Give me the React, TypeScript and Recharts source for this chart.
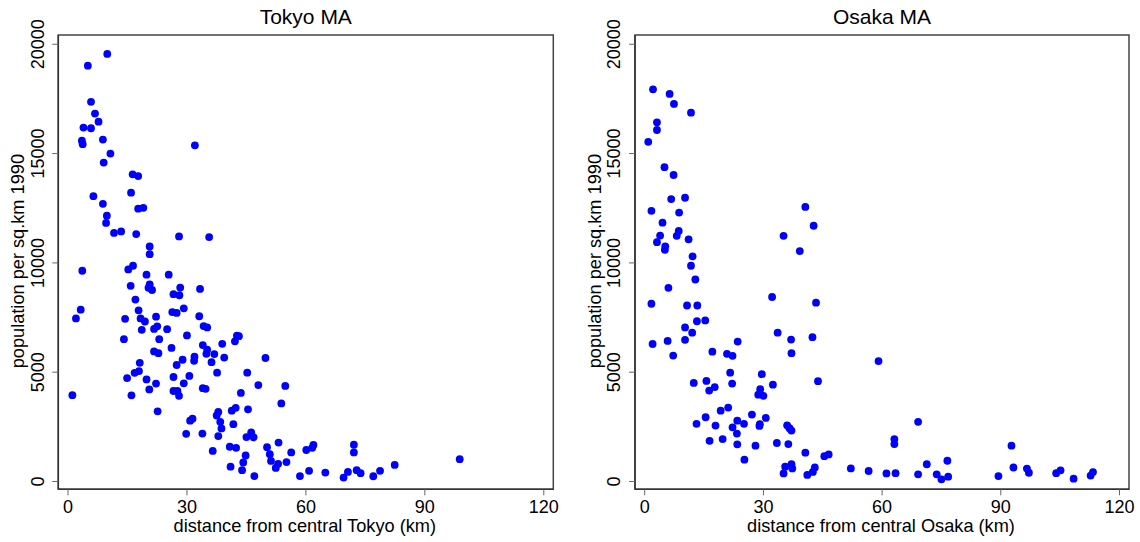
import { ScatterChart, Scatter, XAxis, YAxis, ReferenceArea } from 'recharts';

// distance from centre (km) and population per sq.km 1990, one entry per municipality
const tokyoDist = [
  9.9, 5.0, 5.8, 6.8, 7.7, 3.9, 5.8, 3.5, 3.7, 8.8,
  10.7, 9.0, 32.0, 16.3, 17.7, 15.9, 6.4, 8.8, 17.7, 19.0,
  9.8, 9.6, 11.6, 13.4, 17.2, 28.0, 35.6, 20.6, 20.6, 3.6,
  15.2, 16.4, 19.8, 25.4, 15.8, 20.6, 20.3, 21.2, 28.3, 33.3,
  26.6, 28.1, 17.0, 3.2, 2.0, 17.8, 26.3, 27.4, 29.2, 14.4,
  18.3, 19.4, 22.2, 33.1, 18.6, 21.7, 22.5, 25.0, 34.2, 35.1,
  30.0, 14.1, 23.0, 42.1, 42.6, 43.1, 34.0, 38.9, 26.1, 21.7,
  22.8, 35.1, 34.9, 36.9, 31.9, 31.8, 39.4, 49.8, 28.9, 27.4,
  36.2, 18.1, 17.9, 16.8, 37.6, 45.2, 30.6, 14.9, 26.6, 19.8,
  22.2, 29.2, 48.0, 54.8, 20.5, 26.6, 27.6, 34.0, 34.7, 1.1,
  16.0, 28.0, 43.6, 53.8, 22.6, 45.4, 42.3, 41.3, 37.5, 37.9,
  31.4, 30.8, 38.4, 41.7, 38.7, 29.8, 33.9, 37.9, 46.2, 45.0,
  46.8, 53.1, 40.8, 42.4, 50.2, 61.9, 61.6, 60.1, 72.1, 72.1,
  36.5, 50.9, 56.3, 44.8, 98.8, 51.2, 44.2, 55.1, 53.0, 82.4,
  41.0, 52.4, 43.9, 60.8, 72.8, 64.9, 70.6, 73.8, 78.7, 47.0,
  58.5, 69.5, 77.0,
];
const tokyoDensity = [
  19560, 19020, 17370, 16830, 16460, 16190, 16160, 15590, 15430, 15640,
  15000, 14590, 15380, 14050, 13970, 13210, 13050, 12700, 12480, 12520,
  12160, 11830, 11370, 11440, 11320, 11210, 11180, 10750, 10400, 9640,
  9700, 9870, 9460, 9460, 8950, 9020, 8860, 8760, 8870, 8810,
  8570, 8520, 8320, 7860, 7460, 7830, 7750, 7710, 7920, 7440,
  7460, 7320, 7540, 7560, 6940, 6980, 7100, 6970, 7110, 7050,
  6680, 6510, 6510, 6410, 6670, 6650, 6240, 6300, 6110, 5950,
  5870, 6030, 5840, 5830, 5710, 5520, 5670, 5650, 5570, 5330,
  5460, 5430, 5050, 4970, 4980, 4980, 4830, 4730, 4780, 4670,
  4480, 4490, 4410, 4370, 4210, 4140, 4140, 4270, 4240, 3950,
  3940, 3920, 4050, 3570, 3210, 3300, 3370, 3240, 3020, 3180,
  2870, 2780, 2730, 2620, 2430, 2180, 2190, 2080, 2250, 2030,
  2020, 1780, 1590, 1540, 1570, 1670, 1540, 1440, 1680, 1330,
  1400, 1250, 1330, 1190, 1020, 940, 870, 890, 810, 760,
  680, 620, 520, 490, 520, 410, 440, 380, 490, 250,
  250, 180, 240,
];

const osakaDist = [
  2.1, 6.3, 7.4, 11.7, 3.1, 3.1, 0.9, 5.0, 7.3, 6.7,
  10.2, 1.7, 8.7, 4.5, 3.9, 8.6, 8.1, 3.1, 11.1, 5.2,
  5.1, 12.1, 11.7, 12.8, 6.0, 1.7, 10.7, 13.3, 13.2, 15.3,
  10.2, 12.0, 10.2, 5.8, 2.0, 7.2, 17.1, 20.8, 22.2, 23.5,
  21.6, 22.1, 12.4, 15.6, 16.3, 17.7, 29.6, 29.2, 28.7, 30.0,
  32.4, 32.2, 33.6, 35.1, 39.2, 40.6, 42.7, 43.3, 42.4, 37.0,
  37.1, 43.8, 59.1, 21.1, 19.2, 15.4, 13.1, 17.9, 22.2, 23.4,
  23.3, 25.1, 27.1, 29.1, 29.0, 30.6, 16.4, 19.7, 23.4, 28.0,
  33.4, 36.3, 36.0, 36.6, 37.1, 25.2, 40.6, 45.4, 46.5, 35.1,
  35.5, 37.1, 37.3, 41.1, 42.5, 43.0, 52.1, 56.6, 61.1, 63.4,
  63.1, 63.1, 69.1, 69.1, 71.3, 73.8, 75.0, 76.7, 76.5, 89.4,
  92.7, 93.2, 96.6, 97.1, 104.0, 105.1, 108.4, 112.7, 113.3,
];
const osakaDensity = [
  17940, 17730, 17270, 16870, 16430, 16080, 15540, 14380, 14020, 12920,
  12980, 12380, 12300, 11840, 11250, 11460, 11240, 10950, 11080, 10760,
  10600, 10300, 9870, 9240, 8860, 8130, 8050, 8050, 7330, 7370,
  7050, 6810, 6480, 6430, 6290, 5760, 5940, 5840, 5750, 6400,
  4980, 4480, 4510, 4600, 4160, 4320, 4910, 4220, 3970, 3920,
  4430, 8440, 6810, 11240, 10540, 12560, 11700, 8180, 6600, 6490,
  5870, 4590, 5510, 3380, 3240, 2940, 2640, 2560, 2480, 2780,
  2190, 2640, 3060, 2620, 2540, 2910, 1860, 1940, 1700, 1640,
  1760, 1710, 2570, 2440, 2330, 1000, 1320, 1160, 1240, 370,
  680, 790, 600, 300, 440, 640, 600, 480, 370, 380,
  1940, 1710, 2730, 330, 790, 330, 100, 220, 950, 250,
  1640, 640, 590, 400, 380, 510, 130, 270, 430,
];

const distTicks = [0, 30, 60, 90, 120];
const densityTicks = [0, 5000, 10000, 15000, 20000];

const FONT = '"Liberation Sans", Arial, sans-serif';
const W = 570;
const H = 542;
const PLOT_TOP = 35;
const PLOT_BOTTOM = 489.3;
const AXIS_SIZE = 30;
const X_DOMAIN: [number, number] = [-2.45, 122.4];
const Y_DOMAIN: [number, number] = [-357, 20425];

interface PanelProps {
  title: string;
  xTitle: string;
  dist: number[];
  density: number[];
  left: number;
  plotLeft: number;
  plotRight: number;
}

function Panel({ title, xTitle, dist, density, left, plotLeft, plotRight }: PanelProps) {
  const data = dist.map((d, i) => ({ x: d, y: density[i] }));
  const centerX = plotLeft + (W - plotLeft - plotRight) / 2;
  const centerY = (PLOT_TOP + PLOT_BOTTOM) / 2;

  const renderXTick = (props: any) => (
    <text x={props.x} y={513} textAnchor="middle" fontSize={18} fontFamily={FONT} fill="#000">
      {props.payload.value}
    </text>
  );

  const renderYTick = (props: any) => (
    <text
      transform={`translate(${plotLeft - 14.8},${props.y}) rotate(-90)`}
      textAnchor="middle"
      fontSize={18}
      fontFamily={FONT}
      fill="#000"
    >
      {props.payload.value}
    </text>
  );

  return (
    <div style={{ position: 'absolute', left, top: 0, width: W, height: H }}>
      <ScatterChart
        width={W}
        height={H}
        margin={{
          top: PLOT_TOP,
          right: plotRight,
          bottom: H - PLOT_BOTTOM - AXIS_SIZE,
          left: plotLeft - AXIS_SIZE,
        }}
      >
        <XAxis
          type="number"
          dataKey="x"
          domain={X_DOMAIN}
          ticks={distTicks}
          interval={0}
          allowDataOverflow
          height={AXIS_SIZE}
          tickSize={6}
          tickLine={{ stroke: '#666' }}
          axisLine={{ stroke: '#333', strokeWidth: 1.5 }}
          tick={renderXTick}
        />
        <YAxis
          type="number"
          dataKey="y"
          domain={Y_DOMAIN}
          ticks={densityTicks}
          interval={0}
          allowDataOverflow
          width={AXIS_SIZE}
          tickSize={6}
          tickLine={{ stroke: '#666' }}
          axisLine={{ stroke: '#333', strokeWidth: 1.5 }}
          tick={renderYTick}
        />
        <ReferenceArea
          x1={X_DOMAIN[0]}
          x2={X_DOMAIN[1]}
          y1={Y_DOMAIN[0]}
          y2={Y_DOMAIN[1]}
          fill="none"
          fillOpacity={0}
          stroke="#444"
          strokeWidth={1.5}
          ifOverflow="visible"
        />
        <Scatter
          data={data}
          isAnimationActive={false}
          shape={(p: any) => <circle cx={p.cx} cy={p.cy} r={3.9} fill="#0000ff" />}
        />
      </ScatterChart>
      <svg
        width={W}
        height={H}
        style={{ position: 'absolute', left: 0, top: 0, pointerEvents: 'none' }}
      >
        <text x={centerX} y={24} textAnchor="middle" fontSize={21} fontFamily={FONT} fill="#000">
          {title}
        </text>
        <text x={centerX - 1} y={532.3} textAnchor="middle" fontSize={18.2} fontFamily={FONT} fill="#000">
          {xTitle}
        </text>
        <text
          transform={`translate(${plotLeft - 34.3},${centerY - 1}) rotate(-90)`}
          textAnchor="middle"
          fontSize={18.2}
          fontFamily={FONT}
          fill="#000"
        >
          population per sq.km 1990
        </text>
      </svg>
    </div>
  );
}

export default function App() {
  return (
    <div style={{ position: 'absolute', left: 0, top: 0, width: 1140, height: 542, background: '#fff' }}>
      <Panel
        title="Tokyo MA"
        xTitle="distance from central Tokyo (km)"
        dist={tokyoDist}
        density={tokyoDensity}
        left={0}
        plotLeft={58.3}
        plotRight={16.7}
      />
      <Panel
        title="Osaka MA"
        xTitle="distance from central Osaka (km)"
        dist={osakaDist}
        density={osakaDensity}
        left={570}
        plotLeft={65}
        plotRight={11}
      />
    </div>
  );
}
